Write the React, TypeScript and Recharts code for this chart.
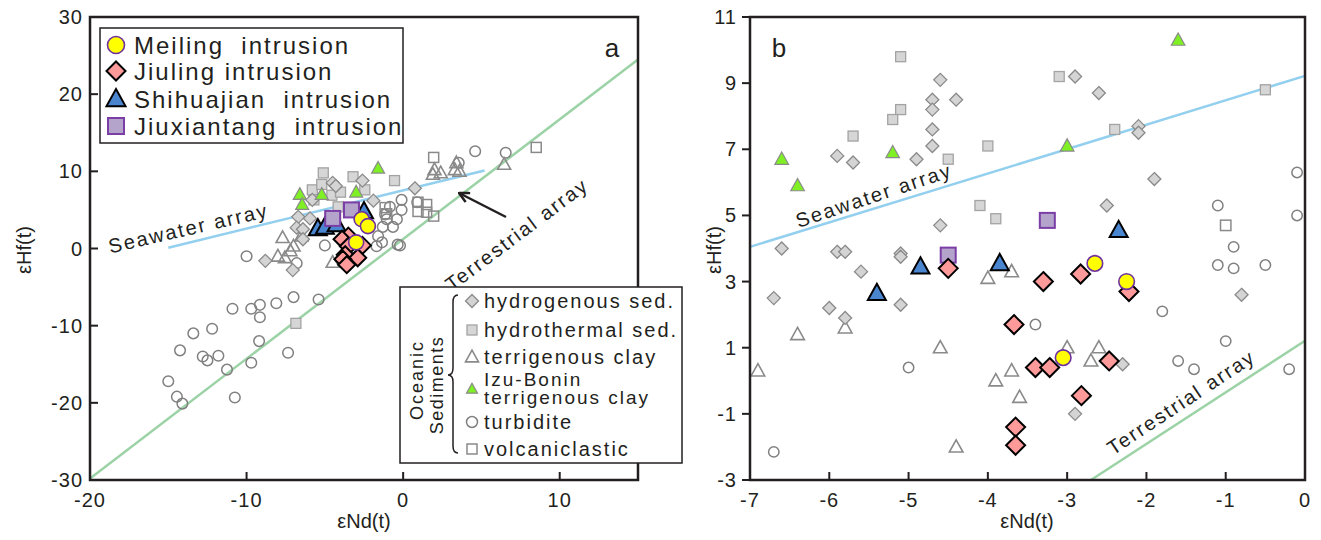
import React from 'react';
import { ScatterChart, Scatter, XAxis, YAxis, ReferenceLine } from 'recharts';

type Pt = [number, number]; // [eNd(t), eHf(t)]

// ---- panel a ----
const aHydrogenous: Pt[] = [
    [-8.8, -1.6], [-7.05, -2.8], [-4.5, 8.5], [-4.3, 8.1], [-2.6, 8.8], [-5.8, 6.3], [-1.9, 6.2],
    [-6.7, 4.1], [-5.95, 3.9], [-6.8, 2.7], [-6.4, 2.5], [-6.4, 1.2], [0.75, 7.8],
];
const aHydrothermal: Pt[] = [
    [-5.1, 9.8], [-3.2, 9.3], [-0.55, 8.8], [-5.8, 7.6], [-5.2, 8.3], [-4.55, 6.9], [-4.0, 7.3],
    [-2.45, 7.6], [-4.15, 5.4], [-5.7, 6.3], [-6.85, -9.7],
];
const aTerrigenous: Pt[] = [
    [-7.7, 1.4], [-7.0, 0.3], [-8.0, -1.0], [-7.55, -1.2], [-6.5, 1.6], [-4.5, -1.8], [-7.2, -0.3],
    [1.9, 9.6], [2.4, 9.8], [2.0, 10.2], [3.4, 11.1], [3.3, 10.2], [3.6, 10.0], [6.45, 10.9],
];
const aIzuBonin: Pt[] = [[-6.6, 7.0], [-6.45, 5.7], [-5.2, 7.0], [-3.0, 7.3], [-1.6, 10.4]];
const aTurbidite: Pt[] = [
    [-10.0, -1.0], [-6.8, -1.9], [-10.9, -7.8], [-9.7, -7.8], [-9.15, -7.3], [-9.15, -8.9],
    [-8.1, -7.1], [-7.0, -6.3], [-5.4, -6.6], [-13.4, -11.0], [-12.2, -10.4], [-14.25, -13.2],
    [-12.8, -14.0], [-12.5, -14.5], [-11.8, -13.9], [-11.25, -15.7], [-9.7, -14.8], [-9.2, -12.0],
    [-7.35, -13.5], [-15.0, -17.2], [-14.45, -19.2], [-14.1, -20.1], [-10.75, -19.3],
    [-0.1, 6.3], [-0.1, 5.0], [-0.85, 5.4], [-1.15, 4.4], [-1.05, 3.8], [-0.4, 3.8], [-1.3, 2.8],
    [-0.65, 2.8], [-1.6, 1.6], [-1.35, 0.8], [-0.2, 0.4], [-5.0, 0.4], [-1.7, 0.3], [-0.35, 0.5],
    [4.6, 12.6], [6.55, 12.4], [3.55, 11.1], [0.9, 6.0],
];
const aVolcaniclastic: Pt[] = [
    [-1.15, 5.3], [-1.05, 4.5], [8.5, 13.1], [1.95, 11.8], [0.95, 6.0], [1.5, 5.7], [0.95, 4.8],
    [1.5, 4.7], [1.95, 4.2],
];
const aMeiling: Pt[] = [[-2.65, 3.8], [-2.25, 2.9], [-3.0, 0.8]];
const aJiuling: Pt[] = [
    [-3.5, 1.6], [-3.9, 1.2], [-3.5, 0.3], [-2.6, 0.4], [-3.7, -0.8], [-2.9, -1.2], [-3.85, -1.4], [-3.6, -2.1],
];
const aShihuajian: Pt[] = [[-5.45, 2.6], [-5.0, 2.8], [-4.25, 3.1], [-2.5, 4.8]];
const aJiuxiantang: Pt[] = [[-4.5, 3.9], [-3.3, 5.0]];

// ---- panel b ----
const bHydrogenous: Pt[] = [
    [-4.6, 9.1], [-4.7, 8.5], [-4.4, 8.5], [-4.7, 8.2], [-4.7, 7.6], [-4.7, 7.1], [-5.9, 6.8],
    [-5.7, 6.6], [-4.9, 6.7], [-4.6, 4.7], [-6.6, 4.0], [-2.9, 9.2], [-2.6, 8.7], [-2.1, 7.7],
    [-2.1, 7.5], [-1.9, 6.1], [-2.5, 5.3], [-5.9, 3.9], [-5.8, 3.9], [-5.1, 3.85], [-5.1, 3.75],
    [-5.6, 3.3], [-6.7, 2.5], [-6.0, 2.2], [-5.1, 2.3], [-5.8, 1.9], [-0.8, 2.6], [-2.3, 0.5], [-2.9, -1.0],
];
const bHydrothermal: Pt[] = [
    [-5.1, 9.8], [-5.1, 8.2], [-5.2, 7.9], [-5.7, 7.4], [-4.0, 7.1], [-4.5, 6.7], [-4.1, 5.3],
    [-3.9, 4.9], [-3.1, 9.2], [-0.5, 8.8], [-2.4, 7.6],
];
const bTerrigenous: Pt[] = [
    [-4.0, 3.1], [-3.7, 3.3], [-5.8, 1.6], [-6.4, 1.4], [-4.6, 1.0], [-6.9, 0.3], [-3.7, 0.3],
    [-3.9, 0.0], [-3.6, -0.5], [-4.4, -2.0], [-3.0, 1.0], [-2.6, 1.0], [-2.7, 0.6],
];
const bIzuBonin: Pt[] = [[-1.6, 10.3], [-6.6, 6.7], [-5.2, 6.9], [-6.4, 5.9], [-3.0, 7.1]];
const bTurbidite: Pt[] = [
    [-1.1, 5.3], [-0.1, 6.3], [-0.1, 5.0], [-0.9, 4.05], [-1.1, 3.5], [-0.9, 3.4], [-0.5, 3.5],
    [-1.8, 2.1], [-3.4, 1.7], [-1.0, 1.2], [-1.6, 0.6], [-1.4, 0.35], [-0.2, 0.35], [-5.0, 0.4], [-6.7, -2.15],
];
const bVolcaniclastic: Pt[] = [[-1.0, 4.7]];
const bMeiling: Pt[] = [[-2.65, 3.55], [-2.25, 3.0], [-3.05, 0.7]];
const bJiuling: Pt[] = [
    [-4.5, 3.4], [-3.3, 3.0], [-2.83, 3.23], [-2.22, 2.7], [-3.67, 1.7], [-3.4, 0.4], [-3.22, 0.4],
    [-2.47, 0.6], [-2.82, -0.45], [-3.65, -1.4], [-3.65, -1.95],
];
const bShihuajian: Pt[] = [[-4.85, 3.45], [-3.85, 3.55], [-5.4, 2.65], [-2.35, 4.55]];
const bJiuxiantang: Pt[] = [[-4.5, 3.8], [-3.25, 4.85]];

// reference arrays [start, end]
const aSeawater: Pt[] = [[-15, 0.1], [5.2, 10.1]];
const aTerrestrial: Pt[] = [[-20, -29.8], [15, 24.5]];
const bSeawater: Pt[] = [[-7, 4.05], [0, 9.22]];
const bTerrestrial: Pt[] = [[-2.7, -3], [0, 1.21]];

const aXTicks = [-20, -10, 0, 10];
const aYTicks = [-30, -20, -10, 0, 10, 20, 30];
const bXTicks = [-7, -6, -5, -4, -3, -2, -1, 0];
const bYTicks = [-3, -1, 1, 3, 5, 7, 9, 11];

const FONT = '"Liberation Sans", Arial, Helvetica, sans-serif';
const INK = '#231f20';
const SEA = '#93cfee';
const TER = '#9cd3a6';

const STY: Record<string, { kind: string; fill: string; stroke: string; sw: number }> = {
    hydrogenous: { kind: 'diamond', fill: '#d4d4d4', stroke: '#8a8a8a', sw: 1.3 },
    hydrothermal: { kind: 'square', fill: '#d6d6d6', stroke: '#a3a3a3', sw: 1.3 },
    terrigenous: { kind: 'triangle', fill: 'none', stroke: '#8a8a8a', sw: 1.6 },
    izu: { kind: 'triangle', fill: '#7ff024', stroke: '#8a8a8a', sw: 1.2 },
    turbidite: { kind: 'circle', fill: 'none', stroke: '#808080', sw: 1.5 },
    volcaniclastic: { kind: 'square', fill: 'none', stroke: '#8a8a8a', sw: 1.5 },
    meiling: { kind: 'circle', fill: '#ffff00', stroke: '#7030a0', sw: 1.6 },
    jiuling: { kind: 'diamond', fill: '#ff9a9a', stroke: '#000', sw: 2 },
    shihuajian: { kind: 'triangle', fill: '#4a86cf', stroke: '#000', sw: 2 },
    jiuxiantang: { kind: 'square', fill: '#b4a4cc', stroke: '#7a3ea6', sw: 2 },
};

const Glyph = ({ name, cx, cy, s }: { name: string; cx: number; cy: number; s: number }) => {
    const st = STY[name];
    const common = { fill: st.fill, stroke: st.stroke, strokeWidth: st.sw };
    if (st.kind === 'circle') return <circle cx={cx} cy={cy} r={s} {...common} />;
    if (st.kind === 'square') return <rect x={cx - s} y={cy - s} width={2 * s} height={2 * s} {...common} />;
    if (st.kind === 'diamond')
        return <path d={`M${cx},${cy - s}L${cx + s},${cy}L${cx},${cy + s}L${cx - s},${cy}Z`} {...common} />;
    return (
        <path
            d={`M${cx},${cy - s * 1.05}L${cx + s},${cy + s * 0.75}L${cx - s},${cy + s * 0.75}Z`}
            strokeLinejoin="miter"
            {...common}
        />
    );
};

const shape = (name: string, s: number) => (p: any) => {
    if (p.cx == null || p.cy == null) return <g />;
    return <Glyph name={name} cx={p.cx} cy={p.cy} s={s} />;
};

const toXY = (pts: Pt[]) => pts.map(([x, y]) => ({ x, y }));

const txt = { fontFamily: FONT, fill: INK } as const;

type PanelProps = {
    left: number;
    width: number;
    plotLeft: number;
    mr: number;
    xDomain: [number, number];
    yDomain: [number, number];
    xTicks: number[];
    yTicks: number[];
    yOut: boolean;
    series: { name: string; pts: Pt[]; s: number }[];
    lines: { pts: Pt[]; color: string }[];
};

const AXW = 40; // y axis width
const AXH = 30; // x axis height

const Panel = ({ left, width, plotLeft, mr, xDomain, yDomain, xTicks, yTicks, yOut, series, lines }: PanelProps) => {
    const axisY = 480;
    const xTick = (p: any) => (
        <g>
            <line x1={p.x} x2={p.x} y1={axisY} y2={axisY - 8} stroke={INK} strokeWidth={2} />
            <text x={p.x} y={axisY + 27} textAnchor="middle" fontSize={20} letterSpacing={1} {...txt}>
                {p.payload.value}
            </text>
        </g>
    );
    const yTick = (p: any) => (
        <g>
            <line x1={plotLeft} x2={yOut ? plotLeft - 8 : plotLeft + 8} y1={p.y} y2={p.y} stroke={INK} strokeWidth={2} />
            <text x={plotLeft - (yOut ? 13 : 7)} y={p.y + 7} textAnchor="end" fontSize={20} letterSpacing={1} {...txt}>
                {p.payload.value}
            </text>
        </g>
    );
    return (
        <div style={{ position: 'absolute', left, top: 0 }}>
            <ScatterChart
                width={width}
                height={540}
                margin={{ top: 17, right: mr, bottom: 60 - AXH, left: plotLeft - AXW }}
            >
                <XAxis
                    type="number"
                    dataKey="x"
                    domain={xDomain}
                    ticks={xTicks}
                    allowDataOverflow
                    axisLine={false}
                    tickLine={false}
                    height={AXH}
                    tick={xTick}
                    interval={0}
                />
                <YAxis
                    type="number"
                    dataKey="y"
                    domain={yDomain}
                    ticks={yTicks}
                    allowDataOverflow
                    axisLine={false}
                    tickLine={false}
                    width={AXW}
                    tick={yTick}
                    interval={0}
                />
                {lines.map((l, i) => (
                    <ReferenceLine
                        key={i}
                        segment={[{ x: l.pts[0][0], y: l.pts[0][1] }, { x: l.pts[1][0], y: l.pts[1][1] }]}
                        stroke={l.color}
                        strokeWidth={2.5}
                        ifOverflow="visible"
                    />
                ))}
                {series.map((sr) => (
                    <Scatter
                        key={sr.name}
                        data={toXY(sr.pts)}
                        shape={shape(sr.name, sr.s)}
                        isAnimationActive={false}
                    />
                ))}
            </ScatterChart>
        </div>
    );
};

const legendA = [
    { name: 'meiling', label: 'Meiling  intrusion', y: 45, s: 8.5 },
    { name: 'jiuling', label: 'Jiuling intrusion', y: 71, s: 9.5 },
    { name: 'shihuajian', label: 'Shihuajian  intrusion', y: 99, s: 9.5 },
    { name: 'jiuxiantang', label: 'Jiuxiantang  intrusion', y: 126, s: 8 },
];

const legendB = [
    { name: 'hydrogenous', label: ['hydrogenous sed.'], y: 301, s: 6.5 },
    { name: 'hydrothermal', label: ['hydrothermal sed.'], y: 330, s: 5 },
    { name: 'terrigenous', label: ['terrigenous clay'], y: 357, s: 6.5 },
    { name: 'izu', label: ['Izu-Bonin', 'terrigenous clay'], y: 389, s: 5.5 },
    { name: 'turbidite', label: ['turbidite'], y: 422, s: 5.5 },
    { name: 'volcaniclastic', label: ['volcaniclastic'], y: 449, s: 5 },
];

const Overlay = () => (
    <svg width={1321} height={540} style={{ position: 'absolute', left: 0, top: 0, pointerEvents: 'none' }}>
        <defs>
            <marker id="ah" markerWidth="12" markerHeight="12" refX="11" refY="6" orient="auto" markerUnits="userSpaceOnUse">
                <path d="M1,1 L11,6 L1,11" fill="none" stroke={INK} strokeWidth={2.5} />
            </marker>
        </defs>
        {/* frames */}
        <rect x={90} y={17} width={548} height={463} fill="none" stroke={INK} strokeWidth={2.5} />
        <rect x={750} y={17} width={555} height={463} fill="none" stroke={INK} strokeWidth={2.5} />

        {/* axis titles */}
        <text x={364} y={528} textAnchor="middle" fontSize={20} {...txt}>εNd(t)</text>
        <text x={1027} y={528} textAnchor="middle" fontSize={20} {...txt}>εNd(t)</text>
        <text x={31} y={250} textAnchor="middle" fontSize={20} transform="rotate(-90 31 250)" {...txt}>εHf(t)</text>
        <text x={721} y={250} textAnchor="middle" fontSize={20} transform="rotate(-90 721 250)" {...txt}>εHf(t)</text>

        {/* panel letters */}
        <text x={612} y={57} textAnchor="middle" fontSize={26} {...txt}>a</text>
        <text x={779} y={57} textAnchor="middle" fontSize={26} {...txt}>b</text>

        {/* array labels */}
        <text x={190} y={235} textAnchor="middle" fontSize={20} letterSpacing={2} transform="rotate(-13 190 235)" {...txt}>
            Seawater array
        </text>
        <text x={521} y={240} textAnchor="middle" fontSize={20} letterSpacing={2} transform="rotate(-37 521 240)" {...txt}>
            Terrestrial array
        </text>
        <text x={876} y={202} textAnchor="middle" fontSize={20} letterSpacing={2} transform="rotate(-18.5 876 202)" {...txt}>
            Seawater array
        </text>
        <text x={1185} y={408} textAnchor="middle" fontSize={20} letterSpacing={2} transform="rotate(-33.5 1185 408)" {...txt}>
            Terrestrial array
        </text>
        <line x1={506} y1={217} x2={459} y2={193} stroke={INK} strokeWidth={2.5} markerEnd="url(#ah)" />

        {/* legend: intrusions */}
        <rect x={100} y={28} width={303} height={115} fill="#fff" stroke={INK} strokeWidth={1.5} />
        {legendA.map((it) => (
            <g key={it.name}>
                <Glyph name={it.name} cx={116} cy={it.y} s={it.s} />
                <text x={134} y={it.y + 9} fontSize={24} letterSpacing={2} xmlSpace="preserve" {...txt}>{it.label}</text>
            </g>
        ))}

        {/* legend: oceanic sediments */}
        <rect x={400} y={287} width={282} height={176} fill="#fff" stroke={INK} strokeWidth={1.5} />
        <text x={423} y={380} textAnchor="middle" fontSize={18} letterSpacing={2} transform="rotate(-90 423 380)" {...txt}>Oceanic</text>
        <text x={443} y={385} textAnchor="middle" fontSize={18} letterSpacing={1.5} transform="rotate(-90 443 385)" {...txt}>Sediments</text>
        <path
            d="M458,295 Q453,295 453,302 L453,368 Q453,375 448,375 Q453,375 453,382 L453,446 Q453,453 458,453"
            fill="none"
            stroke={INK}
            strokeWidth={1.5}
        />
        {legendB.map((it) => (
            <g key={it.name}>
                <Glyph name={it.name} cx={472} cy={it.y} s={it.s} />
                {it.label.length === 1 ? (
                    <text x={484} y={it.y + 7} fontSize={20} letterSpacing={2} {...txt}>{it.label[0]}</text>
                ) : (
                    <text x={484} y={it.y - 3} fontSize={19} letterSpacing={2} {...txt}>
                        <tspan x={484}>{it.label[0]}</tspan>
                        <tspan x={484} dy={18}>{it.label[1]}</tspan>
                    </text>
                )}
            </g>
        ))}
    </svg>
);

export default function App() {
    const seriesA = [
        { name: 'turbidite', pts: aTurbidite, s: 5.3 },
        { name: 'volcaniclastic', pts: aVolcaniclastic, s: 5 },
        { name: 'terrigenous', pts: aTerrigenous, s: 6.5 },
        { name: 'hydrothermal', pts: aHydrothermal, s: 5 },
        { name: 'hydrogenous', pts: aHydrogenous, s: 6.5 },
        { name: 'izu', pts: aIzuBonin, s: 6.5 },
        { name: 'shihuajian', pts: aShihuajian, s: 9 },
        { name: 'jiuxiantang', pts: aJiuxiantang, s: 7.5 },
        { name: 'jiuling', pts: aJiuling, s: 8.5 },
        { name: 'meiling', pts: aMeiling, s: 7.5 },
    ];
    const seriesB = [
        { name: 'turbidite', pts: bTurbidite, s: 5.2 },
        { name: 'volcaniclastic', pts: bVolcaniclastic, s: 5.2 },
        { name: 'terrigenous', pts: bTerrigenous, s: 6.8 },
        { name: 'hydrothermal', pts: bHydrothermal, s: 5 },
        { name: 'hydrogenous', pts: bHydrogenous, s: 6.5 },
        { name: 'izu', pts: bIzuBonin, s: 6.8 },
        { name: 'shihuajian', pts: bShihuajian, s: 9 },
        { name: 'jiuxiantang', pts: bJiuxiantang, s: 7.5 },
        { name: 'jiuling', pts: bJiuling, s: 9.5 },
        { name: 'meiling', pts: bMeiling, s: 7.8 },
    ];
    return (
        <div style={{ position: 'absolute', left: 0, top: 0, width: 1321, height: 540, background: '#fff', fontFamily: FONT }}>
            <Panel
                left={0}
                width={660}
                plotLeft={90}
                mr={22}
                xDomain={[-20, 15]}
                yDomain={[-30, 30]}
                xTicks={aXTicks}
                yTicks={aYTicks}
                yOut={false}
                series={seriesA}
                lines={[{ pts: aTerrestrial, color: TER }, { pts: aSeawater, color: SEA }]}
            />
            <Panel
                left={700}
                width={621}
                plotLeft={50}
                mr={16}
                xDomain={[-7, 0]}
                yDomain={[-3, 11]}
                xTicks={bXTicks}
                yTicks={bYTicks}
                yOut={true}
                series={seriesB}
                lines={[{ pts: bTerrestrial, color: TER }, { pts: bSeawater, color: SEA }]}
            />
            <Overlay />
        </div>
    );
}
